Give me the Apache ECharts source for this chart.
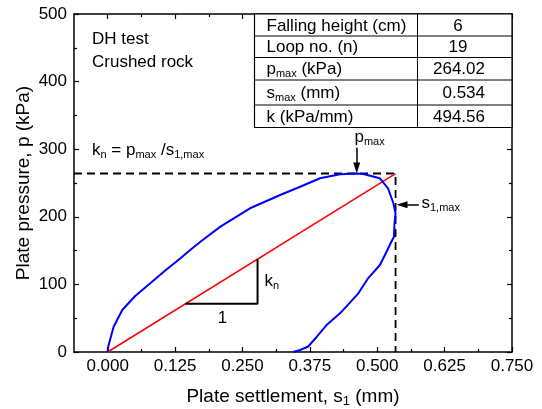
<!DOCTYPE html>
<html>
<head>
<meta charset="utf-8">
<script src="https://cdn.jsdelivr.net/npm/echarts@6.0.0/dist/echarts.min.js"></script>
<style>
html,body{margin:0;padding:0;background:#fff;}
#chart{width:542px;height:409px;}
</style>
</head>
<body>
<div id="chart"></div>
<script>
// ---------- data ----------
const xMajor = [0, 0.125, 0.25, 0.375, 0.5, 0.625, 0.75];
const xMinor = [0.0625, 0.1875, 0.3125, 0.4375, 0.5625, 0.6875];
const xMin = -0.0625, xMax = 0.75;
const yMin = 0, yMax = 500, yStep = 100;

// hysteresis loop: settlement s1 (mm) and pressure p (kPa)
const loopS = [0, 0.001, 0.011, 0.027, 0.051, 0.079, 0.104, 0.135, 0.153, 0.172, 0.209, 0.264, 0.320, 0.357, 0.394, 0.431, 0.462, 0.474, 0.505, 0.520, 0.530, 0.534, 0.532, 0.531, 0.525, 0.518, 0.505, 0.483, 0.465, 0.431, 0.406, 0.388, 0.372, 0.357, 0.344];
const loopP = [0, 8, 37.4, 62.1, 82.8, 101.6, 118.8, 138.6, 150.9, 163.2, 185.4, 212.6, 232.2, 244.5, 257.0, 262.9, 264.02, 263.3, 257.0, 242.2, 220.0, 205.0, 190.0, 170.6, 161.2, 149.4, 128.7, 109.0, 86.8, 57.2, 39.9, 22.6, 8.1, 3.0, 0];

const pMax = 264.02;
const sMax = 0.534;
const kVal = 494.56;

// slope triangle (s, p)
const triS = [0.144, 0.278, 0.278];
const triP = [71.2, 71.2, 137.4];

// table
const tableLabels = ['Falling height (cm)', 'Loop no. (n)', 'p{sub|max} (kPa)', 's{sub|max} (mm)', 'k (kPa/mm)'];
const tableValues = ['6', '19', '264.02', '0.534', '494.56'];

// ---------- chart ----------
const FONT = 'Liberation Sans, Arial, Helvetica, sans-serif';
const zip = (a, b) => a.map((v, i) => [v, b[i]]);
const black = '#000';
const axLine = {show: true, onZero: false, lineStyle: {color: black, width: 1.5}};
const tickStyle = {color: black, width: 1.2};
const subRich = {sub: {fontSize: 11, fontFamily: FONT, verticalAlign: 'bottom', lineHeight: 11}};

const chart = echarts.init(document.getElementById('chart'), null, {renderer: 'canvas'});

const grid = {left: 74, top: 14, right: 30, bottom: 57, containLabel: false, outerBoundsMode: 'none'};

function xAxisDef(pos, vals, len, showLabel, showLine) {
  return {
    type: 'value', min: xMin, max: xMax, position: pos,
    axisLine: showLine ? axLine : {show: false, onZero: false},
    axisTick: {show: true, inside: true, length: len, customValues: vals, lineStyle: tickStyle},
    axisLabel: showLabel ? {show: true, customValues: xMajor, formatter: v => v.toFixed(3), color: black, fontSize: 17, fontFamily: FONT, margin: 6} : {show: false},
    splitLine: {show: false}
  };
}

const xAxes = [
  Object.assign(xAxisDef('bottom', xMajor, 5, true, true), {
    name: 'Plate settlement, s{sub|1} (mm)', nameLocation: 'middle', nameGap: 34, nameMoveOverlap: false,
    nameTextStyle: {color: black, fontSize: 19, fontFamily: FONT, lineHeight: 22, rich: {sub: {fontSize: 13, fontFamily: FONT, verticalAlign: 'bottom', lineHeight: 12}}}
  }),
  xAxisDef('bottom', xMinor, 3, false, false),
  xAxisDef('top', xMajor, 5, false, true),
  xAxisDef('top', xMinor, 3, false, false)
];

function yAxisDef(pos, showLabel) {
  return {
    type: 'value', min: yMin, max: yMax, interval: yStep, position: pos,
    axisLine: axLine,
    axisTick: {show: true, inside: true, length: 5, lineStyle: tickStyle},
    minorTick: {show: true, splitNumber: 2, length: 3, lineStyle: tickStyle},
    axisLabel: showLabel ? {show: true, color: black, fontSize: 17, fontFamily: FONT, margin: 7} : {show: false},
    splitLine: {show: false}
  };
}

const yAxes = [
  Object.assign(yAxisDef('left', true), {
    name: 'Plate pressure, p (kPa)', nameLocation: 'middle', nameGap: 41, nameRotate: 90, nameMoveOverlap: false,
    nameTextStyle: {color: black, fontSize: 19, fontFamily: FONT}
  }),
  yAxisDef('right', false)
];

// graphic texts
const txt = (text, x, y, extra) => ({
  type: 'text', x: x, y: y, silent: true,
  style: Object.assign({text: text, fill: black, font: '17px ' + FONT, fontSize: 17, fontFamily: FONT, verticalAlign: 'middle', align: 'left', lineHeight: 20, rich: subRich}, extra || {})
});

// table geometry (pixels)
const tL = 254.5, tR = 512, tM = 417.5;
const rowY = [14, 36, 57.5, 80, 105, 127.5];
const tableGraphics = [];
tableGraphics.push({type: 'rect', shape: {x: tL, y: rowY[0], width: tR - tL, height: rowY[5] - rowY[0]}, style: {fill: '#fff', stroke: black, lineWidth: 1.2}, z: 10});
for (let i = 1; i < 5; i++) {
  tableGraphics.push({type: 'line', shape: {x1: tL, y1: rowY[i], x2: tR, y2: rowY[i]}, style: {stroke: black, lineWidth: 1}, z: 11});
}
tableGraphics.push({type: 'line', shape: {x1: tM, y1: rowY[0], x2: tM, y2: rowY[5]}, style: {stroke: black, lineWidth: 1}, z: 11});
const valX = [458, 458, 485, 485, 485];
const valAlign = ['center', 'center', 'right', 'right', 'right'];
for (let i = 0; i < 5; i++) {
  const cy = (rowY[i] + rowY[i + 1]) / 2 + 1;
  const a = txt(tableLabels[i], 266.5, cy); a.z = 12; tableGraphics.push(a);
  const b = txt(tableValues[i], valX[i], cy, {align: valAlign[i]}); b.z = 12; tableGraphics.push(b);
}

const option = {
  animation: false,
  backgroundColor: '#fff',
  grid: grid,
  xAxis: xAxes,
  yAxis: yAxes,
  series: [
    {
      type: 'line', name: 'dashed', xAxisIndex: 0, yAxisIndex: 0, symbol: 'none', z: 3,
      data: [[xMin, pMax], [sMax, pMax], [sMax, 0]],
      lineStyle: {color: black, width: 1.8, type: [8, 5]},
      markLine: {
        silent: true, animation: false,
        symbol: ['none', 'triangle'], symbolSize: [7, 11],
        lineStyle: {color: black, width: 1.5, type: 'solid'},
        label: {show: false},
        data: [
          [{coord: [0.462, 302]}, {coord: [0.462, pMax + 8]}],
          [{coord: [0.577, 218]}, {coord: [sMax + 0.012, 218]}]
        ]
      }
    },
    {
      type: 'line', name: 'red', symbol: 'none', z: 4,
      data: [[0, 0], [sMax, pMax]],
      lineStyle: {color: '#ff0000', width: 1.5}
    },
    {
      type: 'line', name: 'triangle', symbol: 'none', z: 4,
      data: zip(triS, triP),
      lineStyle: {color: black, width: 2}
    },
    {
      type: 'line', name: 'loop', symbol: 'none', z: 5, smooth: false,
      data: zip(loopS, loopP),
      lineStyle: {color: '#0000ff', width: 2}
    }
  ],
  graphic: [
    txt('DH test', 92, 39),
    txt('Crushed rock', 92, 62),
    txt('k{sub|n} = p{sub|max} /s{sub|1,max}', 92, 150),
    txt('p{sub|max}', 354.5, 137),
    txt('s{sub|1,max}', 421.5, 203),
    txt('1', 222.5, 318, {align: 'center'}),
    txt('k{sub|n}', 264.5, 281)
  ].concat(tableGraphics)
};

chart.setOption(option);
</script>
</body>
</html>
